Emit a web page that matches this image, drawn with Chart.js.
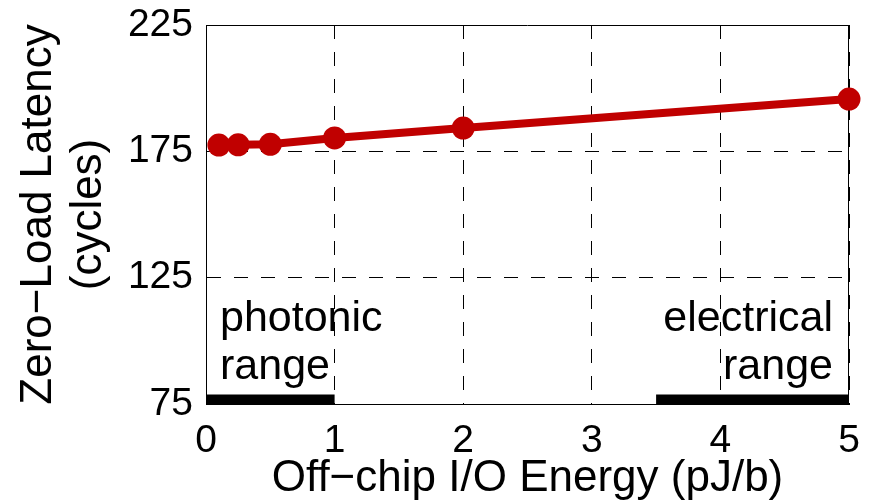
<!DOCTYPE html>
<html>
<head>
<meta charset="utf-8">
<script src="https://cdn.jsdelivr.net/npm/chart.js@4/dist/chart.umd.min.js"></script>
<style>
html,body{margin:0;padding:0;background:#fff;}
#wrap{width:869px;height:503px;}
</style>
</head>
<body>
<div id="wrap"><canvas id="c" width="869" height="503"></canvas></div>
<script>
// ---- data ----
const ioEnergy = [0.1, 0.25, 0.5, 1, 2, 5];
const latency = [177.5, 177.6, 177.8, 180.3, 184.2, 195.7];
const xTicks = [0, 1, 2, 3, 4, 5];
const yTicks = [75, 125, 175, 225];
const photonicRange = [0, 1];
const electricalRange = [3.5, 5];
const rangeBarLevel = 76.8;
const photonicLabel = ['photonic', 'range'];
const electricalLabel = ['electrical', 'range'];
const xTitle = 'Off\u2212chip I/O Energy (pJ/b)';
const yTitle = ['Zero\u2212Load Latency', '(cycles)'];

const FONT = '"Liberation Sans", Arial, Helvetica, sans-serif';
const RED = '#c00000';

const rangeLabels = {
  id: 'rangeLabels',
  beforeDatasetsDraw(chart) {
    const a = chart.chartArea, ctx = chart.ctx;
    ctx.save();
    ctx.strokeStyle = '#000';
    ctx.lineWidth = 1;
    ctx.beginPath();
    ctx.moveTo(a.left, a.top + 0.5);
    ctx.lineTo(a.right, a.top + 0.5);
    ctx.moveTo(a.right - 0.5, a.top);
    ctx.lineTo(a.right - 0.5, a.bottom);
    ctx.stroke();
    ctx.restore();
  },
  afterDatasetsDraw(chart) {
    const a = chart.chartArea, ctx = chart.ctx, xs = chart.scales.x;
    ctx.save();
    ctx.fillStyle = '#000';
    ctx.font = '43px ' + FONT;
    ctx.textBaseline = 'alphabetic';
    ctx.textAlign = 'left';
    const xl = xs.getPixelForValue(photonicRange[0]) + 14;
    ctx.fillText(photonicLabel[0], xl, a.bottom - 73);
    ctx.fillText(photonicLabel[1], xl, a.bottom - 25);
    ctx.textAlign = 'right';
    const xr = xs.getPixelForValue(electricalRange[1]) - 16;
    ctx.fillText(electricalLabel[0], xr, a.bottom - 73);
    ctx.fillText(electricalLabel[1], xr, a.bottom - 25);
    ctx.restore();
  }
};

new Chart(document.getElementById('c'), {
  type: 'line',
  data: {
    datasets: [
      {
        data: ioEnergy.map((x, i) => ({x, y: latency[i]})),
        borderColor: RED,
        backgroundColor: RED,
        borderWidth: 8,
        pointRadius: 11.5,
        pointBorderWidth: 0,
        pointBackgroundColor: RED,
        clip: false,
        order: 0
      },
      {
        data: photonicRange.map(x => ({x, y: rangeBarLevel})),
        borderColor: '#000',
        borderWidth: 10,
        borderCapStyle: 'butt',
        pointRadius: 0,
        clip: false,
        order: 1
      },
      {
        data: electricalRange.map(x => ({x, y: rangeBarLevel})),
        borderColor: '#000',
        borderWidth: 10,
        borderCapStyle: 'butt',
        pointRadius: 0,
        clip: false,
        order: 1
      }
    ]
  },
  options: {
    responsive: false,
    animation: false,
    events: [],
    layout: { padding: { top: 25, right: 20, left: 0, bottom: 0 } },
    plugins: { legend: { display: false }, tooltip: { enabled: false }, title: { display: false } },
    scales: {
      x: {
        type: 'linear',
        min: 0, max: 5,
        afterBuildTicks: s => { s.ticks = xTicks.map(v => ({value: v})); },
        afterFit: s => { s.height = 99; s.paddingLeft = 0; s.paddingRight = 0; },
        grid: { color: '#000', lineWidth: 1, drawTicks: false },
        border: { display: true, color: '#000', width: 1, dash: [14, 13] },
        ticks: { color: '#000', font: { family: FONT, size: 39 }, padding: 14, maxRotation: 0, autoSkip: false },
        title: { display: true, text: xTitle, color: '#000', font: { family: FONT, size: 44, lineHeight: 1.1 }, padding: 0 }
      },
      y: {
        min: 75, max: 225,
        afterBuildTicks: s => { s.ticks = yTicks.map(v => ({value: v})); },
        afterFit: s => { s.width = 206; s.paddingTop = 0; s.paddingBottom = 0; },
        grid: { color: '#000', lineWidth: 1, drawTicks: false },
        border: { display: true, color: '#000', width: 1, dash: [14, 13] },
        ticks: { color: '#000', font: { family: FONT, size: 39 }, padding: 13 },
        title: { display: true, text: yTitle, color: '#000', font: { family: FONT, size: 44, lineHeight: 1.14 }, padding: { top: 14, bottom: 0 } }
      }
    }
  },
  plugins: [rangeLabels]
});
</script>
</body>
</html>
